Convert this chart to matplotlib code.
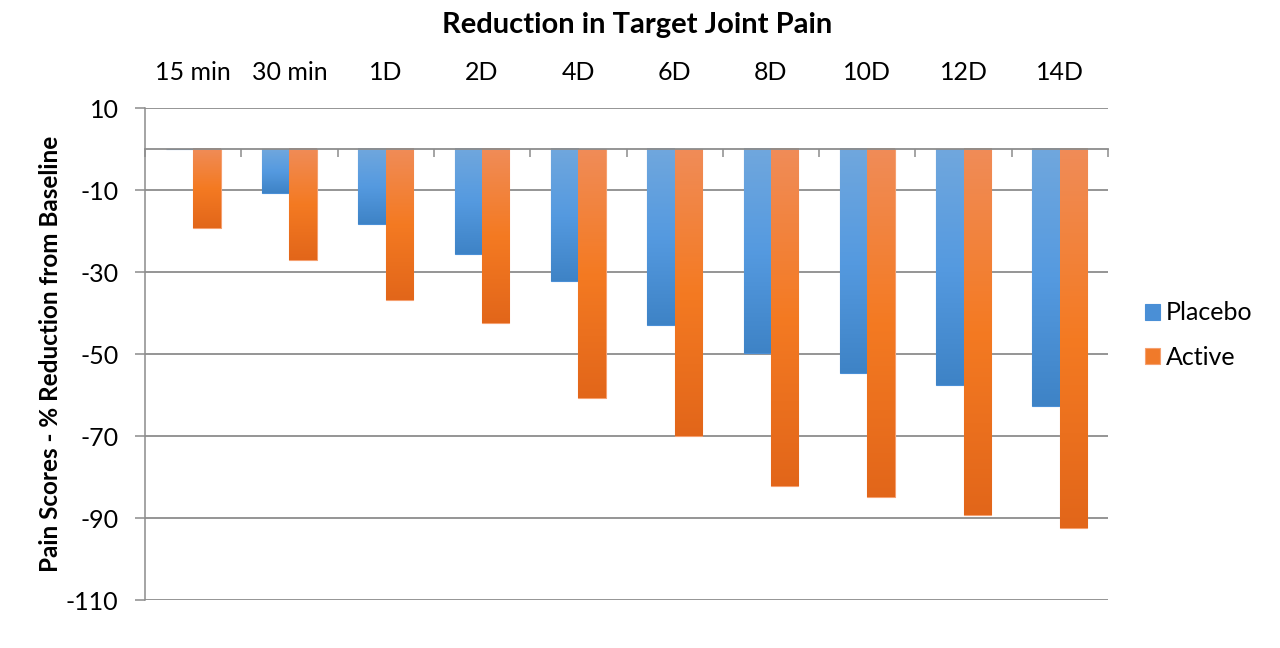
import matplotlib
matplotlib.use("Agg")
import matplotlib.pyplot as plt
import numpy as np
from matplotlib.colors import LinearSegmentedColormap

categories = ["15 min", "30 min", "1D", "2D", "4D", "6D", "8D", "10D", "12D", "14D"]
placebo = [0, -10.7, -18.3, -25.7, -32.2, -43.0, -49.8, -54.7, -57.5, -62.7]
active = [-19.3, -27.1, -36.9, -42.5, -60.7, -70.0, -82.2, -85.0, -89.3, -92.5]
series_names = ["Placebo", "Active"]
yticks = [10, -10, -30, -50, -70, -90, -110]

plt.rcParams['font.family'] = ['Lato', 'DejaVu Sans']
plt.rcParams['axes.unicode_minus'] = False

fig = plt.figure(figsize=(12.8, 6.48), dpi=100)
ax = fig.add_axes([145/1280, 1-600/648, (1108-145)/1280, (600-108)/648])

x = np.arange(len(categories))
w = 0.285
grid_c = "#8c8c8c"

b1 = ax.bar(x - w/2, placebo, w, color="#4a8fd6", edgecolor="#4a8fd6", linewidth=0.8, zorder=3, label=series_names[0])
b2 = ax.bar(x + w/2, active, w, color="#f07a2a", edgecolor="#f5a070", linewidth=0.8, zorder=3, label=series_names[1])

cm_blue = LinearSegmentedColormap.from_list("b", ["#70a7dd", "#559ae0", "#3e83c6"])
cm_orange = LinearSegmentedColormap.from_list("o", ["#f08c58", "#f47a22", "#e2661a"])
grad = np.linspace(0, 1, 256).reshape(-1, 1)
for bars, cm in ((b1, cm_blue), (b2, cm_orange)):
    for p in bars:
        h = p.get_height()
        if h == 0:
            continue
        x0, x1 = p.get_x(), p.get_x() + p.get_width()
        y0, y1 = p.get_y(), p.get_y() + h
        ax.imshow(grad, cmap=cm, extent=(x0, x1, min(y0, y1), max(y0, y1)),
                  aspect='auto', zorder=3.5, origin='upper')

ax.set_xlim(-0.5, len(categories) - 0.5)
ax.set_ylim(-110, 10)

ax.set_yticks(yticks)
ax.yaxis.grid(True, color=grid_c, linewidth=1.3, zorder=0)
ax.tick_params(axis='y', length=7, width=1.1, color=grid_c, labelsize=18, pad=12)

for s in ("top", "right"):
    ax.spines[s].set_visible(False)
ax.spines['left'].set_color(grid_c)
ax.spines['left'].set_linewidth(1.1)
ax.spines['bottom'].set_position(('data', 0))
ax.spines['bottom'].set_color(grid_c)
ax.spines['bottom'].set_linewidth(1.3)
ax.spines['bottom'].set_zorder(4)

ax.set_xticks(x)
ax.set_xticklabels(categories)
ax.set_xticks(np.arange(len(categories) + 1) - 0.5, minor=True)
ax.tick_params(axis='x', which='major', length=0, bottom=False, top=False,
               labelbottom=False, labeltop=True, labelsize=18, pad=17)
ax.tick_params(axis='x', which='minor', length=6, width=1.1, color=grid_c, direction='out', bottom=True)

ax.set_ylabel("Pain Scores - % Reduction from Baseline", fontsize=17.5, fontweight='bold', labelpad=3)
fig.text(637/1280, 1-25/648, "Reduction in Target Joint Pain", ha='center', va='center',
         fontsize=21, fontweight='bold')

fig.legend(handles=[b1, b2], labels=series_names, loc='center left',
           bbox_to_anchor=(1122/1280, 1-335/648), frameon=False, fontsize=18,
           handlelength=0.6, handleheight=0.6, handletextpad=0.25, labelspacing=0.85)

fig.savefig("out.png", dpi=100)
